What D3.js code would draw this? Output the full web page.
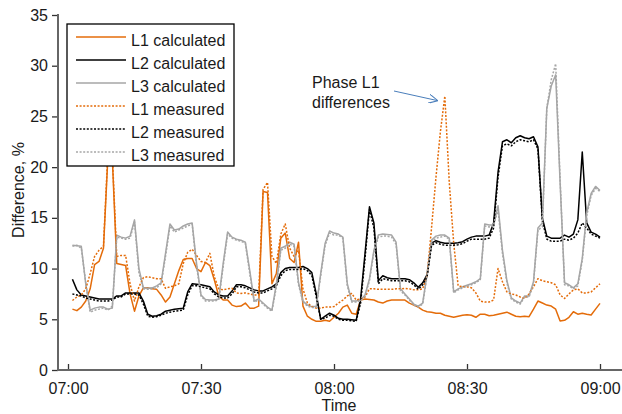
<!DOCTYPE html>
<html>
<head>
<meta charset="utf-8">
<script src="https://cdn.jsdelivr.net/npm/d3@7"></script>
<style>
    body { margin: 0; background: #fff; }
    svg { display: block; font-family: "Liberation Sans", Arial, sans-serif; }
</style>
</head>
<body>
<svg id="chart" width="622" height="414"></svg>
<script>
// minutes after 07:00, one sample per minute
const minutes = d3.range(1, 121);

const l1Calculated = [
    6.0, 5.85, 6.2, 6.8, 8.0, 10.4, 10.7, 12.0, 21.0, 20.8,
    10.5, 10.4, 10.3, 7.5, 5.8, 7.3, 8.1, 8.1, 8.0, 7.95,
    7.4, 6.7, 7.2, 8.5, 9.8, 10.9, 11.0, 11.0, 10.0, 9.7,
    10.6, 10.3, 8.9, 7.3, 6.9, 6.9, 6.4, 6.25, 6.3, 6.6,
    6.1, 6.1, 6.3, 17.6, 17.5, 8.5, 9.5, 13.0, 13.5, 11.0,
    10.6, 12.6, 6.3, 5.3, 5.0, 4.8, 4.8, 4.9, 4.8, 5.2,
    5.6, 6.2, 6.4, 5.6, 5.5, 6.9, 7.0, 6.96, 6.9, 6.7,
    6.6, 6.8, 6.9, 6.9, 6.9, 6.9, 6.6, 6.4, 6.2, 5.9,
    5.75, 5.7, 5.6, 5.6, 5.4, 5.3, 5.2, 5.3, 5.4, 5.45,
    5.4, 5.2, 5.5, 5.5, 5.35, 5.4, 5.5, 5.6, 5.7, 5.5,
    5.3, 5.26, 5.3, 5.26, 6.0, 6.8, 6.6, 6.4, 6.3, 6.0,
    4.83, 4.9, 5.2, 5.74, 5.5, 5.6, 5.5, 5.43, 6.0, 6.57
];

const l2Calculated = [
    8.95, 7.9, 7.4, 7.3, 7.2, 7.1, 7.0, 7.0, 7.0, 7.0,
    7.3, 7.3, 7.6, 7.6, 7.6, 7.6, 6.8, 5.5, 5.3, 5.35,
    5.5, 5.8, 5.9, 6.0, 6.05, 6.1, 7.7, 8.5, 8.45, 8.4,
    8.3, 8.2, 7.7, 7.4, 7.3, 7.3, 7.8, 8.4, 8.4, 8.3,
    8.1, 7.9, 7.8, 7.8, 8.0, 8.2, 8.5, 9.6, 10.0, 10.1,
    10.1, 10.1, 10.2, 10.0, 9.6, 7.5, 5.0, 5.3, 5.6, 5.4,
    5.1, 5.0, 5.0, 4.95, 4.9, 7.0, 11.5, 16.1, 14.5, 8.8,
    9.3, 9.1, 9.0, 9.0, 9.0, 9.0, 8.9, 8.6, 8.15, 8.6,
    9.4, 12.5, 12.75, 12.6, 12.5, 12.5, 12.5, 12.55, 12.65, 12.9,
    13.1, 13.2, 13.2, 13.2, 13.3, 14.5, 19.5, 22.5, 22.7, 22.4,
    22.9, 23.1, 22.9, 22.8, 23.0, 22.0, 15.0, 13.2, 13.0, 13.0,
    13.0, 13.3, 13.1, 13.4, 14.8, 21.5, 14.5, 13.6, 13.4, 13.1
];

const l3Calculated = [
    12.3, 12.25, 12.2, 8.5, 5.9, 6.1, 6.2, 6.2, 6.0, 6.1,
    13.3, 13.1, 13.0, 13.2, 14.8, 10.0, 8.1, 8.05, 8.1, 8.3,
    8.6, 11.5, 14.4, 13.8, 13.9, 14.2, 14.4, 14.5, 10.5, 7.4,
    6.95, 6.9, 6.9, 7.0, 10.5, 13.6, 13.1, 12.9, 12.8, 12.6,
    9.8, 6.8, 7.0, 6.6, 6.2, 5.9, 8.5, 12.0, 12.2, 12.6,
    12.4, 8.6, 6.8, 6.4, 6.25, 6.25, 9.5, 12.5, 13.7, 13.5,
    13.4, 13.1, 8.5, 6.8, 6.8, 6.9, 7.4, 9.0, 11.8, 13.3,
    13.4, 13.35, 13.3, 12.6, 8.0, 7.5, 7.0, 6.5, 6.3, 6.6,
    9.5, 12.8, 13.2, 13.3, 13.3, 13.0, 7.7, 8.0, 8.2, 8.35,
    8.5, 8.7, 9.0, 14.4, 14.3, 14.3, 16.2, 11.8, 8.8, 7.1,
    6.8, 6.6, 7.3, 7.3, 8.7, 14.0, 14.5, 25.8, 28.0, 29.1,
    18.5, 8.6, 8.4, 8.1, 8.5, 11.0, 15.5, 17.4, 18.1, 17.7
];

const l1Measured = [
    6.85, 7.2, 7.4, 8.0, 9.5, 11.2, 11.8, 12.2, 21.5, 21.2,
    11.2, 11.3, 11.3, 8.5, 6.8, 8.2, 9.1, 9.2, 9.1, 9.0,
    9.0, 8.05, 8.2, 8.3, 8.5, 10.5, 11.6, 11.9, 11.3, 10.7,
    10.6, 11.5, 9.2, 8.0, 7.9, 8.0, 8.05, 7.6, 7.55, 7.6,
    7.5, 7.4, 7.4, 17.8, 18.5, 11.2, 10.5, 13.4, 14.4, 12.0,
    11.2, 11.8, 8.0, 6.6, 6.25, 6.1, 6.1, 6.2, 6.2, 6.25,
    6.6, 6.9, 7.3, 7.55, 6.9, 7.0, 7.2, 8.0, 8.0, 7.95,
    7.95, 7.95, 7.95, 8.0, 8.0, 8.05, 8.0, 7.9, 7.9, 8.0,
    9.3, 14.0, 19.0, 23.5, 27.0, 18.5, 12.5, 8.3, 8.2, 8.2,
    8.1, 7.6, 6.8, 6.7, 6.7, 6.9, 10.0, 8.7, 7.7, 7.5,
    7.4, 7.2, 7.05, 7.5, 8.2, 9.0, 8.8, 8.7, 8.6, 8.4,
    7.4, 7.05, 7.5, 7.9, 8.0, 7.6, 7.6, 7.7, 8.1, 8.5
];

const l2Measured = [
    7.5, 7.4, 7.3, 7.1, 7.0, 6.9, 6.8, 6.8, 6.8, 6.9,
    7.2, 7.2, 7.5, 7.5, 7.5, 7.4, 6.5, 5.3, 5.2, 5.25,
    5.4, 5.6, 5.7, 5.8, 5.85, 5.9, 7.4, 8.3, 8.3, 8.2,
    8.1, 8.0, 7.5, 7.2, 7.1, 7.1, 7.5, 8.2, 8.2, 8.1,
    7.9, 7.7, 7.6, 7.6, 7.8, 8.0, 8.3, 9.3, 9.8, 9.9,
    9.9, 9.9, 10.0, 9.8, 9.3, 7.2, 5.0, 5.1, 5.4, 5.3,
    5.0, 4.9, 4.9, 4.85, 4.8, 6.6, 11.0, 15.8, 14.0, 8.5,
    9.0, 8.9, 8.8, 8.8, 8.8, 8.8, 8.7, 8.4, 7.95, 8.4,
    9.2, 12.3, 12.55, 12.4, 12.3, 12.3, 12.3, 12.35, 12.45, 12.7,
    12.9, 12.9, 12.9, 12.9, 13.0, 14.0, 19.0, 22.1, 22.3, 22.1,
    22.5, 22.7, 22.6, 22.5, 22.7, 21.8, 14.7, 12.9, 12.7, 12.7,
    12.7, 12.9, 12.8, 13.0, 13.5, 14.5, 14.0, 13.4, 13.2, 13.0
];

const l3Measured = [
    12.2, 12.3, 12.0, 8.6, 5.7, 5.9, 6.0, 6.1, 5.9, 6.3,
    13.1, 13.0, 12.9, 13.0, 14.6, 9.6, 8.0, 7.95, 8.0, 8.1,
    8.5, 11.2, 14.2, 13.6, 13.8, 14.0, 14.2, 14.4, 10.2, 7.3,
    6.8, 6.8, 6.8, 6.9, 10.2, 13.4, 13.0, 12.8, 12.7, 12.5,
    9.5, 6.7, 6.9, 6.5, 6.1, 5.8, 8.2, 11.8, 12.0, 12.4,
    12.2, 8.4, 6.7, 6.3, 6.15, 6.2, 9.3, 12.3, 13.5, 13.3,
    13.3, 13.0, 8.3, 6.7, 6.7, 6.8, 7.3, 8.8, 11.6, 13.1,
    13.2, 13.2, 13.1, 12.4, 7.8, 7.4, 6.9, 6.4, 6.2, 6.5,
    9.3, 12.6, 13.0, 13.1, 13.2, 12.9, 7.6, 7.9, 8.1, 8.25,
    8.4, 8.6, 8.9, 14.2, 14.1, 14.2, 15.8, 11.5, 8.6, 7.0,
    6.7, 6.5, 7.2, 7.2, 8.5, 13.8, 14.1, 25.8, 28.6, 30.2,
    18.8, 8.4, 8.3, 8.0, 8.3, 10.8, 15.2, 17.2, 17.9, 17.6
];

const yTicks = [0, 5, 10, 15, 20, 25, 30, 35];
const xTickMinutes = [0, 30, 60, 90, 120];

const series = [
    { name: "L1 calculated", values: l1Calculated, color: "#e46c0a", dash: null },
    { name: "L2 calculated", values: l2Calculated, color: "#000000", dash: null },
    { name: "L3 calculated", values: l3Calculated, color: "#a6a6a6", dash: null },
    { name: "L1 measured", values: l1Measured, color: "#e46c0a", dash: "2,1.6" },
    { name: "L2 measured", values: l2Measured, color: "#000000", dash: "2,1.6" },
    { name: "L3 measured", values: l3Measured, color: "#a6a6a6", dash: "2,1.6" }
];

const svg = d3.select("#chart");
const base = new Date(2020, 0, 1, 7, 0);
const toTime = m => d3.timeMinute.offset(base, m);

const x = d3.scaleTime()
    .domain([toTime(0), toTime(120)])
    .range([68, 600]);

const y = d3.scaleLinear()
    .domain([0, 35])
    .range([370, 15]);

// lines
const line = d3.line()
    .x((d, i) => x(toTime(minutes[i])))
    .y(d => y(d));

svg.append("g")
    .selectAll("path")
    .data(series)
    .join("path")
    .attr("d", d => line(d.values))
    .attr("fill", "none")
    .attr("stroke", d => d.color)
    .attr("stroke-width", 1.5)
    .attr("stroke-dasharray", d => d.dash)
    .attr("stroke-linejoin", "round");

// axes
const xAxis = d3.axisBottom(x)
    .tickValues(xTickMinutes.map(toTime))
    .tickFormat(d3.timeFormat("%H:%M"))
    .tickSizeInner(-6)
    .tickSizeOuter(0)
    .tickPadding(13);

const yAxis = d3.axisLeft(y)
    .tickValues(yTicks)
    .tickSizeInner(6)
    .tickSizeOuter(0)
    .tickPadding(4);

const xg = svg.append("g")
    .attr("transform", "translate(0,370)")
    .call(xAxis);
const yg = svg.append("g")
    .attr("transform", "translate(58,0)")
    .call(yAxis);

[xg, yg].forEach(g => {
    g.select(".domain").remove();
    g.selectAll(".tick line").attr("stroke", "#333").attr("stroke-width", 1.3);
    g.selectAll(".tick text")
        .attr("fill", "#1a1a1a")
        .style("font-size", "16px")
        .style("font-family", "'Liberation Sans', Arial, sans-serif");
});

svg.append("line")
    .attr("x1", 58).attr("x2", 58)
    .attr("y1", 14).attr("y2", 371)
    .attr("stroke", "#666").attr("stroke-width", 2);
svg.append("line")
    .attr("x1", 57).attr("x2", 622)
    .attr("y1", 370).attr("y2", 370)
    .attr("stroke", "#666").attr("stroke-width", 2);

// axis titles
svg.append("text")
    .text("Time")
    .attr("x", 339)
    .attr("y", 411)
    .attr("text-anchor", "middle")
    .attr("font-size", 16)
    .attr("fill", "#1a1a1a");

svg.append("text")
    .text("Difference, %")
    .attr("text-anchor", "middle")
    .attr("transform", "translate(24,190) rotate(-90)")
    .attr("font-size", 16)
    .attr("fill", "#1a1a1a");

// legend
const legend = svg.append("g");
legend.append("rect")
    .attr("x", 67).attr("y", 24)
    .attr("width", 167).attr("height", 142)
    .attr("fill", "#fff")
    .attr("stroke", "#000")
    .attr("stroke-width", 1.3);

const rows = legend.selectAll("g.row")
    .data(series)
    .join("g")
    .attr("class", "row")
    .attr("transform", (d, i) => `translate(0, ${37 + i * 23})`);

rows.append("line")
    .attr("x1", 76).attr("x2", 126)
    .attr("stroke", d => d.color)
    .attr("stroke-width", 1.3)
    .attr("stroke-dasharray", d => d.dash);

rows.append("text")
    .text(d => d.name)
    .attr("x", 131)
    .attr("y", 8.5)
    .attr("font-size", 16)
    .attr("fill", "#1a1a1a");

// annotation
svg.append("defs").append("marker")
    .attr("id", "arrow")
    .attr("viewBox", "0 0 10 10")
    .attr("refX", 9).attr("refY", 5)
    .attr("markerWidth", 9).attr("markerHeight", 9)
    .attr("markerUnits", "userSpaceOnUse")
    .attr("orient", "auto")
    .append("path")
    .attr("d", "M0,0 L10,5 L0,10")
    .attr("fill", "none")
    .attr("stroke", "#4a7ebb")
    .attr("stroke-width", 1.2);

svg.append("line")
    .attr("x1", 394).attr("y1", 91)
    .attr("x2", 437).attr("y2", 100.5)
    .attr("stroke", "#4a7ebb")
    .attr("stroke-width", 1)
    .attr("marker-end", "url(#arrow)");

const note = svg.append("text")
    .attr("font-size", 16)
    .attr("fill", "#1a1a1a");
note.append("tspan").attr("x", 312).attr("y", 88).text("Phase L1");
note.append("tspan").attr("x", 312).attr("y", 108).text("differences");
</script>
</body>
</html>
